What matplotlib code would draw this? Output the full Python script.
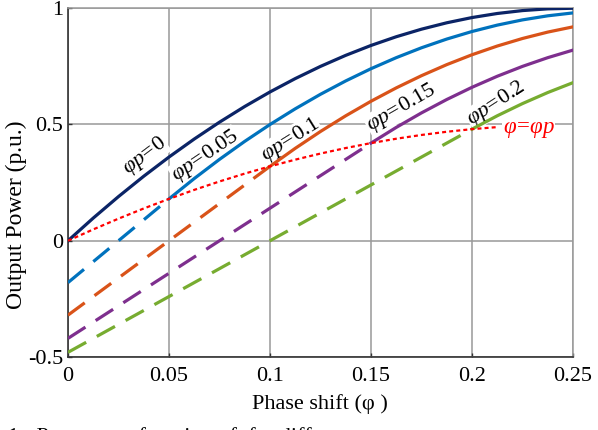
import matplotlib
matplotlib.use('Agg')
import matplotlib.pyplot as plt

plt.rcParams['font.family'] = ['Liberation Serif', 'DejaVu Serif']
plt.rcParams['mathtext.fontset'] = 'custom'
plt.rcParams['mathtext.rm'] = 'Liberation Serif'
plt.rcParams['mathtext.it'] = 'Liberation Serif:italic'

# phase shift grid (step 0.0125)
phi = [0, 0.0125, 0.025, 0.0375, 0.05, 0.0625, 0.075, 0.0875, 0.1, 0.1125,
       0.125, 0.1375, 0.15, 0.1625, 0.175, 0.1875, 0.2, 0.2125, 0.225,
       0.2375, 0.25]

# phi_p = 0 curve (whole range)
p_0 = [0, 0.0975, 0.19, 0.2775, 0.36, 0.4375, 0.51, 0.5775, 0.64, 0.6975,
       0.75, 0.7975, 0.84, 0.8775, 0.91, 0.9375, 0.96, 0.9775, 0.99, 0.9975,
       1.0]
# solid parts, from phi = phi_p up to 0.25
p_005 = [0.18, 0.2675, 0.35, 0.4275, 0.50, 0.5675, 0.63, 0.6875, 0.74,
         0.7875, 0.83, 0.8675, 0.90, 0.9275, 0.95, 0.9675, 0.98]
p_010 = [0.32, 0.3975, 0.47, 0.5375, 0.60, 0.6575, 0.71, 0.7575, 0.80,
         0.8375, 0.87, 0.8975, 0.92]
p_015 = [0.42, 0.4875, 0.55, 0.6075, 0.66, 0.7075, 0.75, 0.7875, 0.82]
p_020 = [0.48, 0.5375, 0.59, 0.6375, 0.68]
# dashed parts, from phi = 0 to phi = phi_p
dash_005 = [-0.18, 0.18]
dash_010 = [-0.32, 0.32]
dash_015 = [-0.42, 0.42]
dash_020 = [-0.48, 0.48]
# phi = phi_p locus
locus = [0, 0.0488, 0.095, 0.1388, 0.18, 0.2188, 0.255, 0.2888, 0.32,
         0.3488, 0.375, 0.3988, 0.42, 0.4388, 0.455, 0.4688, 0.48, 0.4888]

phi_p = [0.05, 0.1, 0.15, 0.2]
solid = [p_005, p_010, p_015, p_020]
dashed = [dash_005, dash_010, dash_015, dash_020]
colors = ['#0072BD', '#D95319', '#7E2F8E', '#77AC30']

fig = plt.figure(figsize=(5.98, 4.30), dpi=100)
ax = fig.add_axes([0.1137, 0.1698, 0.8445, 0.811])

lw = 2.3
ax.plot(phi, p_0, color='#0B2466', lw=lw, zorder=3)
for pp, s, d, c in zip(phi_p, solid, dashed, colors):
    xs = phi[len(phi) - len(s):]
    ax.plot(xs, s, color=c, lw=lw, zorder=3)
    ax.plot([0, pp], d, color=c, lw=lw, dashes=(6.5, 3.8), zorder=3)
ax.plot(phi[:len(locus)], locus, color='#FF0000', lw=1.6,
        dashes=(1.8, 1.4), zorder=4)

# curve labels
box = dict(facecolor='white', edgecolor='none', pad=0.3)
labels = [('$\\varphi p\\!=\\!0$', 0.038, 0.365, 37),
          ('$\\varphi p\\!=\\!0.05$', 0.068, 0.365, 34),
          ('$\\varphi p\\!=\\!0.1$', 0.11, 0.435, 32),
          ('$\\varphi p\\!=\\!0.15$', 0.165, 0.57, 30),
          ('$\\varphi p\\!=\\!0.2$', 0.212, 0.59, 33)]
for t, x, y, r in labels:
    ax.text(x, y, t, fontsize=16, rotation=r, rotation_mode='anchor',
            ha='center', va='center', bbox=box, zorder=2)
ax.text(0.228, 0.478, '$\\varphi\\!=\\!\\varphi p$', fontsize=16.5, color='#FF0000',
        ha='center', va='center', bbox=box, zorder=2)

ax.set_xlim(0, 0.25)
ax.set_ylim(-0.5, 1)
ax.set_xticks([0, 0.05, 0.1, 0.15, 0.2, 0.25])
ax.set_xticklabels(['0', '0.05', '0.1', '0.15', '0.2', '0.25'])
ax.set_yticks([-0.5, 0, 0.5, 1])
ax.set_yticklabels(['-0.5', '0', '0.5', '1'])
ax.grid(True, color='#999999', lw=1.1, zorder=0)
ax.set_axisbelow(True)
ax.tick_params(direction='in', length=3, width=1, labelsize=16, color='#333333')
ax.tick_params(axis='x', pad=7)
for side in ['left', 'bottom']:
    ax.spines[side].set_color('#333333')
    ax.spines[side].set_linewidth(1.2)
for side in ['top', 'right']:
    ax.spines[side].set_color('#999999')
    ax.spines[side].set_linewidth(1.1)

fig.text(16.7 / 598, 0.5, 'Output Power (p.u.)', rotation=90, fontsize=17,
         ha='center', va='center')
fig.text(320 / 598, 1 - 404 / 430, 'Phase shift (φ )', fontsize=16,
         ha='center', va='center')
# caption of the source figure, cut by the lower edge as in the original
fig.text(8 / 598, 1 - 442 / 430, '1:  Power as a function of  for different',
         fontsize=16, ha='left', va='baseline')

fig.savefig('out.png', dpi=100)
